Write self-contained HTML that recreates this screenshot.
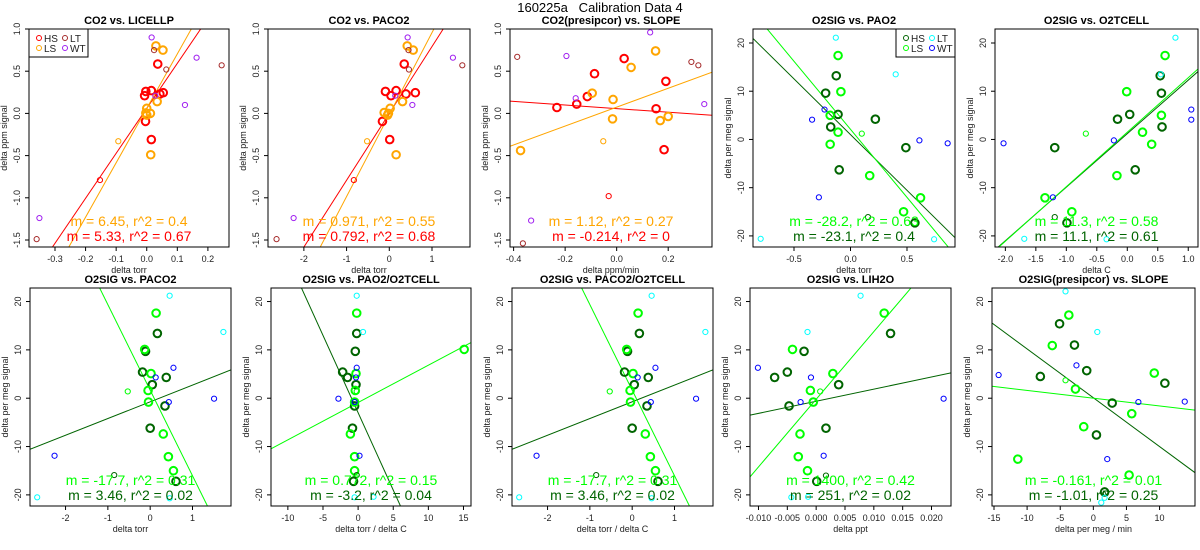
<!DOCTYPE html>
<html><head><meta charset="utf-8"><style>
html,body{margin:0;padding:0;background:#fff;width:1200px;height:550px;overflow:hidden}
svg{display:block;font-family:"Liberation Sans",sans-serif}
</style></head><body>
<svg id="chart" width="1200" height="550" viewBox="0 0 1200 550"></svg>
<script>
// ---------- data (x,y pairs per group) ----------
const P1_HS=[[-0.003,0.26],[0.015,0.27],[-0.007,0.21],[0.043,0.23],[0.054,0.245],[0.036,0.585],[-0.004,-0.095],[0.015,-0.31]];
const P1_LS=[[0.030,0.80],[0.053,0.75],[0.034,0.14],[0.0,0.06],[0.012,0.0],[-0.003,0.005],[0.0,-0.02],[0.013,-0.49]];
const P1_HSt=[[-0.153,-0.79]];
const P1_LSt=[[-0.093,-0.33]];
const P1_LT=[[0.024,0.75],[0.064,0.52],[0.245,0.57],[-0.36,-1.49]];
const P1_WT=[[0.016,0.90],[0.163,0.66],[0.125,0.10],[0.028,0.21],[-0.351,-1.24]];
const P1_FIT=[[5.33,0.06],[6.45,0.06]];

const P2_HS=[[-0.09,0.26],[0.16,0.27],[0.04,0.21],[0.39,0.23],[0.61,0.245],[0.35,0.585],[-0.16,-0.095],[0.01,-0.31]];
const P2_LS=[[0.42,0.80],[0.56,0.75],[0.31,0.14],[0.02,0.06],[-0.12,0.01],[-0.04,-0.02],[-0.02,0.0],[0.16,-0.49]];
const P2_HSt=[[-0.83,-0.79]];
const P2_LSt=[[-0.52,-0.33]];
const P2_LT=[[0.45,0.75],[0.46,0.52],[1.71,0.57],[-2.64,-1.49]];
const P2_WT=[[0.43,0.90],[1.49,0.66],[0.54,0.10],[0.14,0.21],[-2.24,-1.24]];
const P2_FIT=[[0.792,0.0],[0.971,-0.014]];

const P3_HS=[[-0.232,0.07],[-0.155,0.11],[-0.114,0.20],[-0.086,0.47],[0.029,0.65],[0.191,0.38],[0.153,0.055],[0.184,-0.43]];
const P3_LS=[[-0.373,-0.44],[-0.095,0.24],[-0.014,0.165],[-0.016,-0.065],[0.056,0.545],[0.151,0.74],[0.169,-0.085],[0.2,-0.036]];
const P3_HSt=[[-0.031,-0.98]];
const P3_LSt=[[-0.052,-0.33]];
const P3_LT=[[-0.386,0.67],[0.29,0.61],[0.317,0.57],[-0.364,-1.54]];
const P3_WT=[[-0.195,0.68],[-0.159,0.18],[0.13,0.96],[0.34,0.11],[-0.332,-1.27]];
const P3_FIT=[[-0.214,0.057],[1.12,0.074]];

const P4_HS=[[-0.126,13.2],[-0.22,9.6],[-0.11,5.2],[-0.175,2.6],[0.22,4.2],[0.49,-1.7],[-0.10,-6.3],[0.57,-17.3]];
const P4_LS=[[-0.11,17.4],[-0.085,9.9],[-0.18,5.0],[-0.11,1.5],[-0.18,-1.0],[0.17,-7.5],[0.47,-15.0],[0.62,-12.1]];
const P4_HSt=[[0.155,-16.1]];
const P4_LSt=[[0.1,1.2]];
const P4_LT=[[-0.13,21.1],[0.40,13.5],[-0.795,-20.6],[0.74,-20.7]];
const P4_WT=[[-0.23,6.2],[-0.34,4.1],[0.61,-0.2],[0.86,-0.8],[-0.28,-12.0]];
const P4_FIT=[[-23.1,1.0],[-28.2,2.1]];

const P5_HS=[[0.54,13.2],[0.56,9.6],[0.04,5.2],[-0.16,4.2],[0.57,2.6],[-1.19,-1.7],[0.13,-6.3],[-0.99,-17.3]];
const P5_LS=[[0.62,17.4],[-0.01,9.9],[0.56,5.0],[0.25,1.5],[0.40,-1.0],[-0.17,-7.5],[-0.91,-15.0],[-1.35,-12.1]];
const P5_HSt=[[-1.19,-16.1]];
const P5_LSt=[[-0.68,1.2]];
const P5_LT=[[0.79,21.1],[0.55,13.5],[-1.69,-20.6],[-0.34,-20.7]];
const P5_WT=[[1.05,6.2],[1.05,4.1],[-0.22,-0.2],[-2.03,-0.8],[-1.22,-12.0]];
const P5_FIT=[[11.1,1.2],[11.3,1.5]];

const P6_HS=[[0.17,13.4],[-0.11,9.7],[-0.18,5.4],[0.05,2.8],[0.38,4.3],[0.35,-1.6],[0.0,-6.2],[0.61,-17.2]];
const P6_LS=[[0.14,17.6],[-0.13,10.1],[0.02,5.1],[-0.05,1.6],[-0.04,-0.8],[0.31,-7.4],[0.43,-12.1],[0.55,-15.0]];
const P6_HSt=[[-0.85,-15.9]];
const P6_LSt=[[-0.53,1.4]];
const P6_LT=[[0.46,21.2],[1.73,13.7],[-2.67,-20.5],[0.46,-20.7]];
const P6_WT=[[0.55,6.3],[0.13,4.3],[1.51,-0.1],[0.44,-0.8],[-2.26,-11.9]];
const P6_FIT=[[3.46,-0.75],[-17.7,1.66]];

const P7_HS=[[-0.2,13.4],[-0.4,9.7],[-2.2,5.4],[-0.3,2.8],[-1.5,4.3],[-0.5,-1.6],[-0.8,-6.2],[-0.65,-17.2]];
const P7_LS=[[-0.2,17.6],[15.1,10.1],[-0.3,5.1],[-0.4,1.6],[-0.5,-0.8],[-1.1,-7.4],[-0.5,-12.1],[-0.5,-15.0]];
const P7_HSt=[[-0.2,-15.9]];
const P7_LSt=[[-0.2,1.4]];
const P7_LT=[[-0.2,21.2],[0.7,13.7],[-0.5,-20.5],[2.2,-20.4]];
const P7_WT=[[-0.2,6.3],[-0.3,4.3],[-2.8,-0.1],[-0.5,-0.8],[0.2,-11.9]];
const P7_FIT=[[-3.2,-3.0],[0.772,-0.89]];

const P9_HS=[[0.0129,13.4],[-0.0021,9.7],[-0.005,5.4],[0.0039,2.8],[-0.0072,4.3],[-0.0047,-1.6],[0.0017,-6.2],[0.0001,-17.2]];
const P9_LS=[[0.0118,17.6],[-0.0041,10.1],[0.0029,5.1],[-0.001,1.6],[-0.0005,-0.8],[-0.0028,-7.4],[-0.0031,-12.1],[-0.0015,-15.0]];
const P9_HSt=[[0.0017,-16.0]];
const P9_LSt=[[0.0007,1.4]];
const P9_LT=[[0.0077,21.2],[-0.0015,13.7],[-0.0043,-20.5],[-0.0014,-20.4]];
const P9_WT=[[-0.0101,6.3],[-0.0009,4.3],[0.0221,-0.1],[-0.0027,-0.8],[0.0013,-11.9]];
const P9_FIT=[[251,-0.63],[1400,-0.22]];

const P10_HS=[[-5.1,15.4],[-2.85,11.0],[-8.0,4.5],[-1.0,5.7],[10.8,3.1],[2.85,-1.0],[0.47,-7.6],[1.7,-19.4]];
const P10_LS=[[-3.7,17.2],[-6.2,10.9],[-2.7,1.9],[9.2,5.2],[5.8,-3.2],[-1.45,-5.9],[-11.4,-12.6],[5.4,-15.9]];
const P10_HSt=[[1.9,-19.7]];
const P10_LSt=[[-4.2,3.7]];
const P10_LT=[[-4.2,22.1],[0.6,13.7],[1.2,-21.6],[1.7,-20.6]];
const P10_WT=[[-14.3,4.8],[-2.55,6.8],[6.8,-0.8],[13.8,-0.7],[2.1,-12.6]];
const P10_FIT=[[-1.01,0.1],[-0.161,0.0]];

const CO2_YTICKS=[-1.5,-1.0,-0.5,0.0,0.5,1.0];
const CO2_YLABELS=["-1.5","-1.0","-0.5","0.0","0.5","1.0"];
const O2_YTICKS=[-20,-10,0,10,20];
const O2_YLABELS=["-20","-10","0","10","20"];

const NS='http://www.w3.org/2000/svg';
const svg=document.getElementById('chart');
function el(tag,attrs,parent,text){const e=document.createElementNS(NS,tag);for(const k in attrs)e.setAttribute(k,attrs[k]);if(text!==undefined)e.textContent=text;(parent||svg).appendChild(e);return e;}

const CO2C=['#ff0000','#ffa500','#a52a2a','#a020f0'];
const O2C=['#006400','#00ff00','#00ffff','#0000ff'];

const panels=[
 {name:'co2-vs-licellp',title:'CO2 vs. LICELLP',x0:29,y0:29,w:200,h:218,xlim:[-0.385,0.269],ylim:[-1.583,1.0],xt:[-0.3,-0.2,-0.1,0,0.1,0.2],xl:["-0.3","-0.2","-0.1","0.0","0.1","0.2"],yt:CO2_YTICKS,yl:CO2_YLABELS,xlab:'delta torr',ylab:'delta ppm signal',c:CO2C,d:[P1_HS,P1_LS,P1_HSt,P1_LSt,P1_LT,P1_WT],fit:P1_FIT,txt:['m = 6.45, r^2 = 0.4','m = 5.33, r^2 = 0.67'],leg:'left'},
 {name:'co2-vs-paco2',title:'CO2 vs. PACO2',x0:268,y0:29,w:202,h:218,xlim:[-2.84,1.89],ylim:[-1.583,1.0],xt:[-2,-1,0,1],xl:["-2","-1","0","1"],yt:CO2_YTICKS,yl:CO2_YLABELS,xlab:'delta torr',ylab:'delta ppm signal',c:CO2C,d:[P2_HS,P2_LS,P2_HSt,P2_LSt,P2_LT,P2_WT],fit:P2_FIT,txt:['m = 0.971, r^2 = 0.55','m = 0.792, r^2 = 0.68']},
 {name:'co2-presipcor-vs-slope',title:'CO2(presipcor) vs. SLOPE',x0:510,y0:29,w:202,h:218,xlim:[-0.414,0.37],ylim:[-1.583,1.0],xt:[-0.4,-0.2,0,0.2],xl:["-0.4","-0.2","0.0","0.2"],yt:CO2_YTICKS,yl:CO2_YLABELS,xlab:'delta ppm/min',ylab:'delta ppm signal',c:CO2C,d:[P3_HS,P3_LS,P3_HSt,P3_LSt,P3_LT,P3_WT],fit:P3_FIT,txt:['m = 1.12, r^2 = 0.27','m = -0.214, r^2 = 0']},
 {name:'o2sig-vs-pao2',title:'O2SIG vs. PAO2',x0:753,y0:29,w:202,h:218,xlim:[-0.863,0.925],ylim:[-22.3,22.9],xt:[-0.5,0,0.5],xl:["-0.5","0.0","0.5"],yt:O2_YTICKS,yl:O2_YLABELS,xlab:'delta torr',ylab:'delta per meg signal',c:O2C,d:[P4_HS,P4_LS,P4_HSt,P4_LSt,P4_LT,P4_WT],fit:P4_FIT,txt:['m = -28.2, r^2 = 0.63','m = -23.1, r^2 = 0.4'],leg:'right'},
 {name:'o2sig-vs-o2tcell',title:'O2SIG vs. O2TCELL',x0:995,y0:29,w:203,h:218,xlim:[-2.17,1.16],ylim:[-22.3,22.9],xt:[-2,-1.5,-1,-0.5,0,0.5,1],xl:["-2.0","-1.5","-1.0","-0.5","0.0","0.5","1.0"],yt:O2_YTICKS,yl:O2_YLABELS,xlab:'delta C',ylab:'delta per meg signal',c:O2C,d:[P5_HS,P5_LS,P5_HSt,P5_LSt,P5_LT,P5_WT],fit:P5_FIT,txt:['m = 11.3, r^2 = 0.58','m = 11.1, r^2 = 0.61']},
 {name:'o2sig-vs-paco2',title:'O2SIG vs. PACO2',x0:30,y0:288,w:201,h:218,xlim:[-2.84,1.91],ylim:[-22.3,22.8],xt:[-2,-1,0,1],xl:["-2","-1","0","1"],yt:O2_YTICKS,yl:O2_YLABELS,xlab:'delta torr',ylab:'delta per meg signal',c:O2C,d:[P6_HS,P6_LS,P6_HSt,P6_LSt,P6_LT,P6_WT],fit:P6_FIT,txt:['m = -17.7, r^2 = 0.31','m = 3.46, r^2 = 0.02']},
 {name:'o2sig-vs-pao2-o2tcell',title:'O2SIG vs. PAO2/O2TCELL',x0:271,y0:288,w:200,h:218,xlim:[-12.4,16.07],ylim:[-22.3,22.8],xt:[-10,-5,0,5,10,15],xl:["-10","-5","0","5","10","15"],yt:O2_YTICKS,yl:O2_YLABELS,xlab:'delta torr / delta C',ylab:'delta per meg signal',c:O2C,d:[P7_HS,P7_LS,P7_HSt,P7_LSt,P7_LT,P7_WT],fit:P7_FIT,txt:['m = 0.772, r^2 = 0.15','m = -3.2, r^2 = 0.04']},
 {name:'o2sig-vs-paco2-o2tcell',title:'O2SIG vs. PACO2/O2TCELL',x0:512,y0:288,w:201,h:218,xlim:[-2.84,1.91],ylim:[-22.3,22.8],xt:[-2,-1,0,1],xl:["-2","-1","0","1"],yt:O2_YTICKS,yl:O2_YLABELS,xlab:'delta torr / delta C',ylab:'delta per meg signal',c:O2C,d:[P6_HS,P6_LS,P6_HSt,P6_LSt,P6_LT,P6_WT],fit:P6_FIT,txt:['m = -17.7, r^2 = 0.31','m = 3.46, r^2 = 0.02']},
 {name:'o2sig-vs-lih2o',title:'O2SIG vs. LIH2O',x0:750,y0:288,w:201,h:218,xlim:[-0.01147,0.02338],ylim:[-22.3,22.8],xt:[-0.01,-0.005,0,0.005,0.01,0.015,0.02],xl:["-0.010","-0.005","0.000","0.005","0.010","0.015","0.020"],yt:O2_YTICKS,yl:O2_YLABELS,xlab:'delta ppt',ylab:'delta per meg signal',c:O2C,d:[P9_HS,P9_LS,P9_HSt,P9_LSt,P9_LT,P9_WT],fit:P9_FIT,txt:['m = 1400, r^2 = 0.42','m = 251, r^2 = 0.02']},
 {name:'o2sig-presipcor-vs-slope',title:'O2SIG(presipcor) vs. SLOPE',x0:992,y0:288,w:203,h:218,xlim:[-15.3,15.35],ylim:[-22.3,22.8],xt:[-15,-10,-5,0,5,10],xl:["-15","-10","-5","0","5","10"],yt:O2_YTICKS,yl:O2_YLABELS,xlab:'delta per meg / min',ylab:'delta per meg signal',c:O2C,d:[P10_HS,P10_LS,P10_HSt,P10_LSt,P10_LT,P10_WT],fit:P10_FIT,txt:['m = -0.161, r^2 = 0.01','m = -1.01, r^2 = 0.25']}
];

const mt=el('text',{x:600,y:12,'text-anchor':'middle','font-size':13,style:'white-space:pre'},svg,'160225a   Calibration Data 4');



panels.forEach((p,i)=>{
  const g=el('g',{});
  
  
  const sx=v=>p.x0+(v-p.xlim[0])/(p.xlim[1]-p.xlim[0])*p.w;
  const sy=v=>p.y0+p.h-(v-p.ylim[0])/(p.ylim[1]-p.ylim[0])*p.h;
  const cp=el('clipPath',{id:'cp'+i},g);el('rect',{x:p.x0,y:p.y0,width:p.w,height:p.h},cp);
  const t=el('text',{x:p.x0+p.w/2,y:p.y0-5,'text-anchor':'middle','font-size':11,'font-weight':'bold'},g,p.title);
  
  
  const b=p.y0+p.h;
  p.xt.forEach((v,k)=>{const x=sx(v);el('line',{x1:x,x2:x,y1:b,y2:b+4,stroke:'#000'},g);
    const tl=el('text',{x:x,y:b+15,'text-anchor':'middle','font-size':9,fill:'#222'},g,p.xl[k]);
    
    });
  p.yt.forEach((v,k)=>{const y=sy(v);el('line',{x1:p.x0-4,x2:p.x0,y1:y,y2:y,stroke:'#000'},g);
    const tl=el('text',{x:p.x0-9,y:y,'text-anchor':'middle','font-size':9,fill:'#222',transform:`rotate(-90 ${p.x0-9} ${y})`},g,p.yl[k]);
    
    });
  const xl=el('text',{x:p.x0+p.w/2,y:b+26,'text-anchor':'middle','font-size':9,fill:'#222'},g,p.xlab);
  
  
  const yx=p.x0-22,yy=p.y0+p.h/2;
  const yl=el('text',{x:yx,y:yy,'text-anchor':'middle','font-size':9,fill:'#222',transform:`rotate(-90 ${yx} ${yy})`},g,p.ylab);
  
  
  const fg=el('g',{'clip-path':`url(#cp${i})`},g);
  p.fit.forEach((f,k)=>{const x1=p.xlim[0],x2=p.xlim[1];
    const ln=el('line',{x1:sx(x1),y1:sy(f[0]*x1+f[1]),x2:sx(x2),y2:sy(f[0]*x2+f[1]),stroke:p.c[k],'stroke-width':1},fg);
    
    });
  const col=[p.c[0],p.c[1],p.c[0],p.c[1],p.c[2],p.c[3]];
  p.d.forEach((s,k)=>{const thick=k<2;
    s.forEach(pt=>{const c=el('circle',{cx:sx(pt[0]),cy:sy(pt[1]),r:thick?3.8:2.6,fill:'none',stroke:col[k],'stroke-width':thick?2:1},fg);
      
      });});
  const cx=p.x0+p.w/2;
  const a1=el('text',{x:cx,y:b-21,'text-anchor':'middle','font-size':14,fill:p.c[1]},g,p.txt[0]);
  
  
  const a2=el('text',{x:cx,y:b-6,'text-anchor':'middle','font-size':14,fill:p.c[0]},g,p.txt[1]);
  
  
  el('rect',{x:p.x0,y:p.y0,width:p.w,height:p.h,fill:'none',stroke:'#000'},g);
  if(p.leg){
    const lx=p.leg==='left'?p.x0:p.x0+p.w-59;
    const lg=el('g',{},g);
    
    
    el('rect',{x:lx,y:p.y0,width:59,height:28,fill:'#fff',stroke:'#000'},lg);
    const names=['HS','LS','LT','WT'],pos=[[0,0],[0,1],[1,0],[1,1]];
    names.forEach((n,k)=>{const ex=lx+10+pos[k][0]*26,ey=p.y0+9+pos[k][1]*10;
      el('circle',{cx:ex,cy:ey,r:2.5,fill:'none',stroke:p.c[k]},lg);
      const tt=el('text',{x:ex+5,y:ey+4,'font-size':10,fill:'#222'},lg,n);
      
      });
  }
});
</script>
</body></html>
